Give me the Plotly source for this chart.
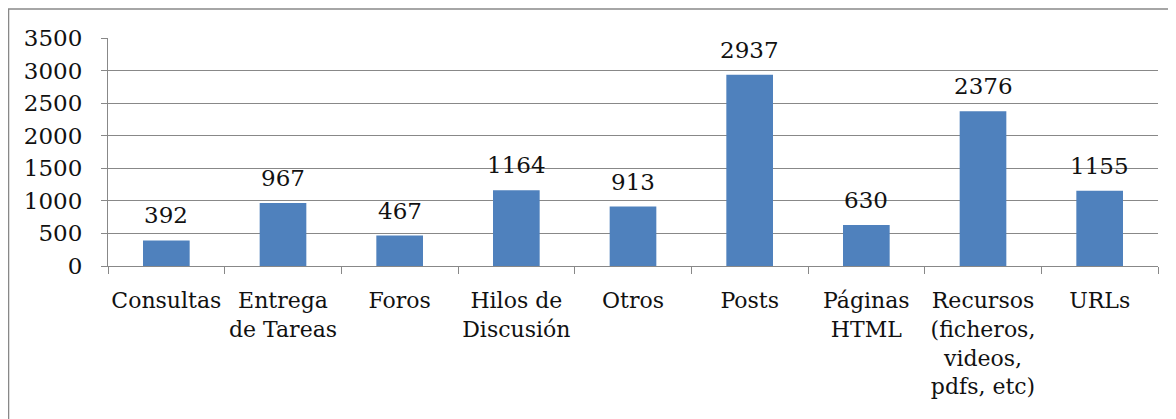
import plotly.graph_objects as go

categories = ["Consultas", "Entrega<br>de Tareas", "Foros", "Hilos de<br>Discusión", "Otros",
              "Posts", "Páginas<br>HTML", "Recursos<br>(ficheros,<br>videos,<br>pdfs, etc)", "URLs"]
values = [392, 967, 467, 1164, 913, 2937, 630, 2376, 1155]
y_ticks = [0, 500, 1000, 1500, 2000, 2500, 3000, 3500]

FONT = "DejaVu Serif"
# page body has an 8px margin: figure drawn at (8,8)
W, H = 1168, 411
L, R, T, B = 100, 18, 30, 153
pw, ph = W - L - R, H - T - B

fig = go.Figure()
fig.add_trace(go.Bar(x=categories, y=values, marker=dict(color="#4F81BD", line=dict(width=0)),
                     width=0.4, hoverinfo="skip"))
for c, v in zip(categories, values):
    fig.add_annotation(x=c, y=v, text=str(v), showarrow=False, yanchor="bottom", yshift=10,
                       font=dict(family=FONT, size=23, color="#111"))

fig.update_layout(
    width=W, height=H, margin=dict(l=L, r=R, t=T, b=B, autoexpand=False),
    paper_bgcolor="white", plot_bgcolor="white", showlegend=False,
    font=dict(family=FONT, size=22, color="#111"),
    xaxis=dict(type="category", showline=True, linecolor="#888", linewidth=1,
               ticks="outside", tickson="boundaries", ticklen=7, tickcolor="#888",
               showgrid=False, tickfont=dict(size=22), tickangle=0, ticklabelstandoff=15,
               automargin=False),
    yaxis=dict(range=[0, 3500], tickvals=y_ticks, showline=True, linecolor="#888", linewidth=1,
               ticks="outside", ticklen=6, tickcolor="#888", showgrid=True, gridcolor="#888",
               gridwidth=1, zeroline=False, tickfont=dict(size=23), ticklabelstandoff=14,
               automargin=False),
    shapes=[
        dict(type="line", xref="paper", yref="paper", x0=-L/pw, x1=1.05,
             y0=1 + (T-1)/ph, y1=1 + (T-1)/ph, line=dict(color="#888", width=1.5)),
        dict(type="line", xref="paper", yref="paper", x0=-L/pw + 0.0005, x1=-L/pw + 0.0005,
             y0=1 + (T-1)/ph, y1=-B/ph - 0.1, line=dict(color="#888", width=1.5)),
    ],
)
fig.write_html("out.html")
